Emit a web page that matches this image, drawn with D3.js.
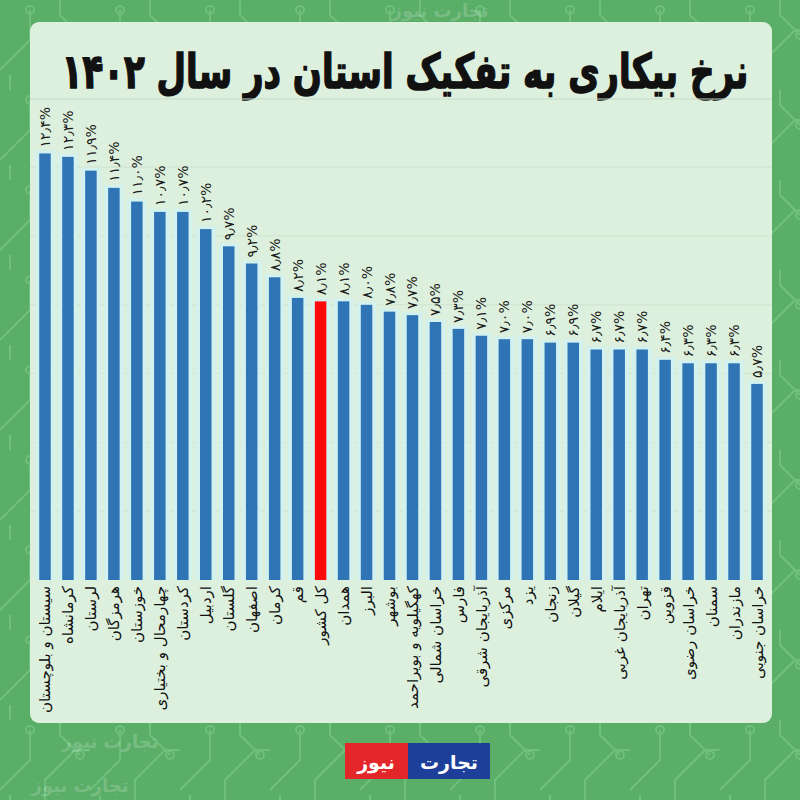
<!DOCTYPE html>
<head>
<meta charset="utf-8">
<script src="https://d3js.org/d3.v7.min.js"></script>
<style>
  body { margin: 0; background: #5aae68; }
  text { font-family: "DejaVu Sans", sans-serif; }
</style>
</head>
<body>
<div id="my_dataviz"></div>
<script>
// data
var provinces = ["سیستان و بلوچستان", "کرمانشاه", "لرستان", "هرمزگان", "خوزستان",
  "چهارمحال و بختیاری", "کردستان", "اردبیل", "گلستان", "اصفهان", "کرمان", "قم",
  "کل کشور", "همدان", "البرز", "بوشهر", "کهگیلویه و بویراحمد", "خراسان شمالی",
  "فارس", "آذربایجان شرقی", "مرکزی", "یزد", "زنجان", "گیلان", "ایلام",
  "آذربایجان غربی", "تهران", "قزوین", "خراسان رضوی", "سمنان", "مازندران", "خراسان جنوبی"]
var rates = [12.4, 12.3, 11.9, 11.4, 11.0, 10.7, 10.7, 10.2, 9.7, 9.2, 8.8, 8.2,
  8.1, 8.1, 8.0, 7.8, 7.7, 7.5, 7.3, 7.1, 7.0, 7.0, 6.9, 6.9, 6.7,
  6.7, 6.7, 6.4, 6.3, 6.3, 6.3, 5.7]
var highlight = "کل کشور"
var gridTicks = [2, 4, 6, 8, 10, 12]
var title = "نرخ بیکاری به تفکیک استان در سال ۱۴۰۲"

var data = provinces.map(function(p, i) { return {name: p, value: rates[i]} })

// persian digits
function fa(v) {
  var digits = "۰۱۲۳۴۵۶۷۸۹"
  return v.toFixed(1).replace(/[0-9]/g, function(c) { return digits[+c] }).replace(".", "٫") + "%"
}

var width = 800, height = 800

var svg = d3.select("#my_dataviz")
  .append("svg")
    .attr("width", width)
    .attr("height", height)

// background with a light circuit-ish pattern
var defs = svg.append("defs")
var pat = defs.append("pattern")
  .attr("id", "circuit")
  .attr("width", 90).attr("height", 90)
  .attr("patternUnits", "userSpaceOnUse")
pat.append("rect").attr("width", 90).attr("height", 90).attr("fill", "#5aae68")
pat.append("path")
  .attr("d", "M0,70 L30,40 L30,10 M45,90 L45,60 L75,30 L90,30 M60,0 L60,15 L80,35 M10,90 L10,75")
  .attr("stroke", "#6ec07c").attr("stroke-width", 2).attr("fill", "none")
pat.append("circle").attr("cx", 30).attr("cy", 10).attr("r", 4)
  .attr("stroke", "#6ec07c").attr("stroke-width", 2).attr("fill", "none")
pat.append("circle").attr("cx", 80).attr("cy", 35).attr("r", 4)
  .attr("stroke", "#6ec07c").attr("stroke-width", 2).attr("fill", "none")

svg.append("rect")
  .attr("width", width).attr("height", height)
  .attr("fill", "url(#circuit)")

// faint watermarks on the background
svg.selectAll(".wm")
  .data([[440, 17], [110, 748], [80, 792]])
  .enter().append("text")
    .attr("x", function(d) { return d[0] })
    .attr("y", function(d) { return d[1] })
    .attr("text-anchor", "middle")
    .style("font-size", "18px")
    .style("font-weight", "bold")
    .attr("fill", "#ffffff")
    .attr("opacity", 0.18)
    .text("تجارت نیوز")

// panel
svg.append("rect")
  .attr("x", 30).attr("y", 22)
  .attr("width", 742).attr("height", 701)
  .attr("rx", 9)
  .attr("fill", "#ddf0dd")

// title (stretched vertically + stroked to mimic the heavy display font)
svg.append("text")
  .attr("transform", "translate(405,88) scale(1,1.4)")
  .attr("text-anchor", "middle")
  .style("font-size", "34px")
  .style("font-weight", "bold")
  .attr("fill", "#111")
  .attr("stroke", "#111")
  .attr("stroke-width", 1.2)
  .text(title)

svg.append("line")
  .attr("x1", 30).attr("x2", 772)
  .attr("y1", 99).attr("y2", 99)
  .attr("stroke", "#c9dcc9").attr("stroke-width", 1)

// scales
var x = d3.scaleBand()
  .domain(provinces)
  .range([33.5, 768.5])
  .paddingInner(0.5)
  .paddingOuter(0.25)

var y = d3.scaleLinear()
  .domain([0, 14])
  .range([580, 98.4])

// gridlines
svg.append("g")
  .selectAll("line")
  .data(gridTicks)
  .enter().append("line")
    .attr("x1", 30).attr("x2", 772)
    .attr("y1", function(d) { return y(d) })
    .attr("y2", function(d) { return y(d) })
    .attr("stroke", "#cfe3cf").attr("stroke-width", 1)

// halo behind the bars
svg.append("g")
  .selectAll("rect")
  .data(data)
  .enter().append("rect")
    .attr("x", function(d) { return x(d.name) - 4 })
    .attr("y", function(d) { return y(d.value) - 3 })
    .attr("width", x.bandwidth() + 8)
    .attr("height", function(d) { return y(0) - y(d.value) + 3 })
    .attr("fill", "#d2f1ef")

// bars
svg.append("g")
  .selectAll("rect")
  .data(data)
  .enter().append("rect")
    .attr("x", function(d) { return x(d.name) })
    .attr("y", function(d) { return y(d.value) })
    .attr("width", x.bandwidth())
    .attr("height", function(d) { return y(0) - y(d.value) })
    .attr("fill", function(d) { return d.name == highlight ? "#ff0a0a" : "#2f74b5" })

// value labels
svg.append("g")
  .selectAll("text")
  .data(data)
  .enter().append("text")
    .attr("transform", function(d) {
      return "translate(" + (x(d.name) + x.bandwidth() / 2 + 5) + "," + (y(d.value) - 6) + ") rotate(-90)"
    })
    .attr("text-anchor", "start")
    .attr("direction", "ltr")
    .attr("unicode-bidi", "bidi-override")
    .style("font-size", "14px")
    .attr("fill", "#1a1a1a")
    .text(function(d) { return fa(d.value) })

// category labels
svg.append("g")
  .selectAll("text")
  .data(data)
  .enter().append("text")
    .attr("transform", function(d) {
      return "translate(" + (x(d.name) + x.bandwidth() / 2 + 5.5) + "," + 586 + ") rotate(-90)"
    })
    .attr("text-anchor", "end")
    .style("font-size", "15px")
    .attr("fill", "#111")
    .text(function(d) { return d.name })

// logo
var logo = svg.append("g")
logo.append("rect").attr("x", 345).attr("y", 743).attr("width", 63).attr("height", 36).attr("fill", "#e3262a")
logo.append("rect").attr("x", 408).attr("y", 743).attr("width", 82).attr("height", 36).attr("fill", "#1d3f9a")
logo.append("text").attr("x", 376).attr("y", 769).attr("text-anchor", "middle")
  .style("font-size", "19px").style("font-weight", "bold").attr("fill", "#fff").text("نیوز")
logo.append("text").attr("x", 449).attr("y", 769).attr("text-anchor", "middle")
  .style("font-size", "19px").style("font-weight", "bold").attr("fill", "#fff").text("تجارت")
</script>
</body>
